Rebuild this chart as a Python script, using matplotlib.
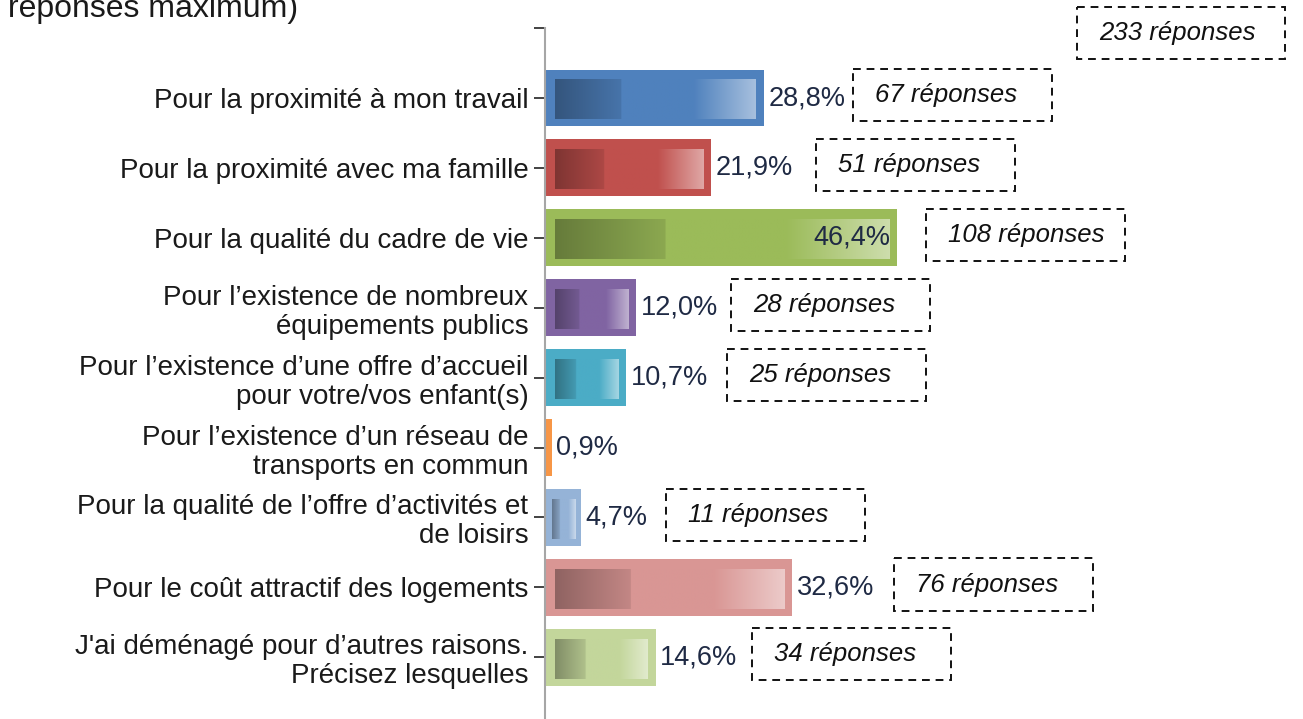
import numpy as np
import matplotlib
matplotlib.use("Agg")
import matplotlib.pyplot as plt
from matplotlib.patches import Rectangle
from matplotlib.colors import to_rgb

plt.rcParams["font.family"] = ["Liberation Sans", "DejaVu Sans"]

# ---------------- data ----------------
categories = [
    "Pour la proximité à mon travail",
    "Pour la proximité avec ma famille",
    "Pour la qualité du cadre de vie",
    "Pour l\u2019existence de nombreux\néquipements publics",
    "Pour l\u2019existence d\u2019une offre d\u2019accueil\npour votre/vos enfant(s)",
    "Pour l\u2019existence d\u2019un réseau de\ntransports en commun",
    "Pour la qualité de l\u2019offre d\u2019activités et\nde loisirs",
    "Pour le coût attractif des logements",
    "J'ai déménagé pour d\u2019autres raisons.\nPrécisez lesquelles",
]
percent = [28.8, 21.9, 46.4, 12.0, 10.7, 0.9, 4.7, 32.6, 14.6]
responses = [67, 51, 108, 28, 25, None, 11, 76, 34]
total_responses = 233
title_text = "réponses maximum)"

bar_colors = ["#4F81BD", "#C0504D", "#9BBB59", "#8064A2", "#4BACC6",
              "#F79646", "#95B3D7", "#D99694", "#C3D69B"]
# left edge of the dashed "réponses" boxes (axis units)
box_left = [40.6, 35.7, 50.2, 24.5, 24.0, None, 15.9, 46.0, 27.3]

# ---------------- figure ----------------
W, H, DPI = 1303, 719, 100
fig = plt.figure(figsize=(W / DPI, H / DPI), dpi=DPI)
ax_left_px = 545
px_per_pct = 7.59
ax = fig.add_axes([ax_left_px / W, 0, 1 - ax_left_px / W, 1])
xmax = (W - ax_left_px) / px_per_pct
y0_px, step_px = 98, 69.9
ytop = -y0_px / step_px
ybot = (H - y0_px) / step_px

FS_LAB = 20
FS_PCT = 19.5
FS_BOX = 18.5
txt_color = "#1a1a1a"
pct_color = "#1f2a44"

n = len(categories)
ypos = np.arange(n)
bar_h = 0.815
ax.barh(ypos, percent, height=bar_h, color=bar_colors, edgecolor="none", zorder=2)


def mix(c, other, t):
    c = np.array(to_rgb(c)); o = np.array(other)
    return c * (1 - t) + o * t


# inner gradient rectangles
for i, (v, c) in enumerate(zip(percent, bar_colors)):
    if v < 2:
        continue
    inset_l = 1.3 if v > 8 else 0.9
    inset_r = 1.05 if v > 8 else 0.7
    x0, x1 = inset_l, v - inset_r
    yt = i - bar_h / 2 + 0.143
    yb = i + bar_h / 2 - 0.10
    N = 300
    t = np.linspace(0, 1, N)
    base = np.array(to_rgb(c))
    dark = base * 0.66
    light = mix(c, (1, 1, 1), 0.5)
    cols = np.zeros((N, 3))
    for k, tk in enumerate(t):
        if tk < 0.33:
            f = tk / 0.33
            cols[k] = dark * (1 - f) + (base * 0.9) * f
        elif tk < 0.69:
            cols[k] = base
        else:
            f = (tk - 0.69) / 0.31
            cols[k] = base * (1 - f) + light * f
    ax.imshow(cols[np.newaxis, :, :], extent=(x0, x1, yb, yt), aspect="auto",
              interpolation="bilinear", zorder=3)

# percentage labels
for i, v in enumerate(percent):
    lab = f"{v:.1f}".replace(".", ",") + "%"
    if v > 40:
        ax.text(v - 0.9, i, lab, ha="right", va="center", fontsize=FS_PCT,
                color=pct_color, zorder=4)
    else:
        ax.text(v + 0.6, i, lab, ha="left", va="center", fontsize=FS_PCT,
                color=pct_color, zorder=4)

# dashed response boxes
box_w = 26.2
box_h = 0.745


def draw_box(xl, yc, w, text):
    r = Rectangle((xl, yc - box_h / 2), w, box_h, fill=False, edgecolor="#111111",
                  linewidth=1.4, linestyle=(0, (4, 3)), zorder=5, clip_on=False)
    ax.add_patch(r)
    ax.text(xl + 2.9, yc, text, ha="left", va="center", fontsize=FS_BOX,
            style="italic", color="#111111", zorder=5, clip_on=False)


for i, (r, xl) in enumerate(zip(responses, box_left)):
    if r is None:
        continue
    draw_box(xl, i - 0.04, box_w, f"{r} réponses")
draw_box(70.1, -0.93, 27.4, f"{total_responses} réponses")

# axes styling
ax.set_xlim(0, xmax)
ax.set_ylim(ybot, ytop)
for s in ["top", "right", "bottom"]:
    ax.spines[s].set_visible(False)
ax.spines["left"].set_color("#a6a6a6")
ax.spines["left"].set_linewidth(1.5)
ax.spines["left"].set_bounds(-1, ybot)
ax.set_xticks([])
ax.set_yticks(list(range(-1, n)))
ax.set_yticklabels([""] + categories, fontsize=FS_LAB, color=txt_color,
                   linespacing=1.15, family=["Liberation Sans", "DejaVu Sans"])
ax.tick_params(axis="y", direction="out", length=8, width=1.2, color="#222222",
               pad=4)
for lbl in ax.get_yticklabels():
    lbl.set_horizontalalignment("right")

fig.text(8 / W, 1 - 17 / H, title_text, fontsize=23, color=txt_color,
         va="baseline", ha="left")

fig.savefig("out.png", dpi=DPI)
